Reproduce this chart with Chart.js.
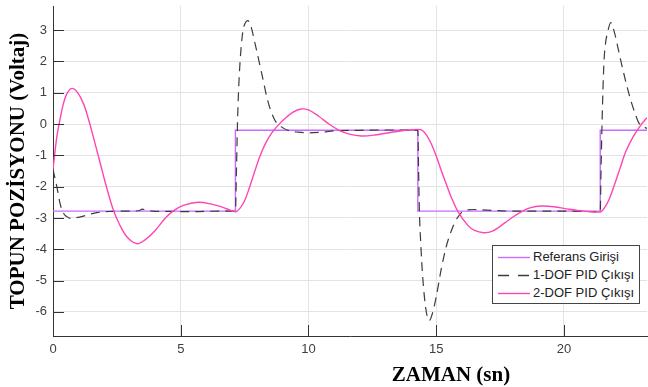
<!DOCTYPE html>
<html><head><meta charset="utf-8">
<script src="https://cdn.jsdelivr.net/npm/chart.js@4.4.0/dist/chart.umd.min.js"></script>
<style>
html,body{margin:0;padding:0;background:#fff;}
#wrap{position:relative;width:648px;height:387px;overflow:hidden;}
#xtitle{position:absolute;left:351px;width:200px;top:361px;text-align:center;font:bold 21px "Liberation Serif","Times New Roman",serif;color:#000;line-height:26px;}
#legend{position:absolute;left:492px;top:245px;width:146px;height:57px;border:1px solid #444;background:#fff;font:13px "Liberation Sans",Arial,sans-serif;color:#222;}
.row{position:absolute;left:4px;height:18px;line-height:18px;white-space:nowrap;}
.row svg{position:absolute;left:0;top:0;}
.row span{position:absolute;left:36px;top:0;}
</style></head><body>
<div id="wrap">
<canvas id="c" width="648" height="387"></canvas>
<div id="xtitle">ZAMAN (sn)</div>
<div id="legend"></div>
</div>
<script>
// ---- data ----
const seriesNames = ["Referans Girişi", "1-DOF PID Çıkışı", "2-DOF PID Çıkışı"];
const refTimes  = [0, 7.14, 14.28, 21.42, 23.25];
const refLevels = [-2.78, -0.2, -2.78, -0.2, -0.2];

const dof1Times = [0,0.15,0.28,0.41,0.55,0.67,0.9,1.19,1.45,1.71,
  2.1,2.5,3.0,3.35,3.5,3.65,3.9,4.5,5.5,6.5,
  7.14,7.18,7.22,7.27,7.31,7.38,7.44,7.52,7.62,7.72,
  7.9,8.16,8.42,8.68,8.94,9.27,9.6,10.0,10.5,11.0,
  12.0,13.0,14.28,14.31,14.34,14.4,14.47,14.6,14.73,14.85,
  15.0,15.19,15.39,15.55,15.71,15.85,16.03,16.5,17.0,18.0,
  19.0,20.0,21.42,21.45,21.49,21.53,21.57,21.63,21.7,21.83,
  21.95,22.22,22.42,22.61,22.8,22.94,23.1,23.25];
const dof1Values = [-1.45,-2.0,-2.55,-2.85,-2.96,-3.01,-2.99,-2.94,-2.88,-2.83,
  -2.8,-2.78,-2.78,-2.77,-2.72,-2.76,-2.78,-2.79,-2.8,-2.78,
  -2.78,-1.5,0.0,1.2,1.83,2.6,3.0,3.22,3.3,3.2,
  2.6,1.65,0.7,0.13,-0.09,-0.22,-0.26,-0.28,-0.26,-0.22,
  -0.2,-0.19,-0.2,-1.5,-2.75,-3.9,-4.88,-5.94,-6.28,-6.05,
  -5.52,-4.66,-3.92,-3.5,-3.17,-2.97,-2.8,-2.73,-2.75,-2.78,
  -2.78,-2.78,-2.8,-1.5,0.0,1.2,2.04,2.6,2.9,3.24,
  3.0,2.04,1.35,0.77,0.3,0.02,-0.08,-0.14];

const dof2Times = [0,0.15,0.3,0.41,0.55,0.74,0.95,1.19,1.4,1.58,
  1.8,1.97,2.1,2.36,2.6,2.89,3.28,3.6,4.0,4.4,
  4.7,5.1,5.68,6.2,6.65,7.14,7.3,7.5,7.7,7.9,
  8.1,8.3,8.55,8.8,9.1,9.4,9.7,10.0,10.4,10.8,
  11.2,11.6,12.07,12.6,13.2,13.8,14.3,14.45,14.6,14.8,
  15.0,15.19,15.4,15.58,15.84,16.23,16.5,16.85,17.2,17.7,
  18.0,18.38,18.7,19.1,19.6,20.2,20.8,21.42,21.55,21.77,
  22.0,22.2,22.42,22.7,23.0,23.25];
const dof2Values = [-1.45,-0.41,0.25,0.66,0.98,1.14,1.02,0.66,0.12,-0.42,
  -1.1,-1.63,-2.03,-2.74,-3.2,-3.6,-3.82,-3.7,-3.4,-3.0,
  -2.78,-2.6,-2.5,-2.56,-2.66,-2.8,-2.71,-2.45,-2.0,-1.5,
  -1.03,-0.65,-0.3,-0.05,0.19,0.38,0.48,0.45,0.25,0.0,
  -0.2,-0.32,-0.38,-0.35,-0.27,-0.2,-0.17,-0.2,-0.33,-0.62,
  -1.02,-1.47,-1.93,-2.32,-2.78,-3.23,-3.4,-3.47,-3.42,-3.15,
  -2.97,-2.78,-2.67,-2.62,-2.64,-2.72,-2.78,-2.81,-2.72,-2.4,
  -1.88,-1.4,-0.88,-0.42,-0.04,0.2];

const xTickValues = [0, 5, 10, 15, 20];
const yTickValues = [-6, -5, -4, -3, -2, -1, 0, 1, 2, 3];
const xTitle = "ZAMAN (sn)";
const yTitle = "TOPUN POZİSYONU (Voltaj)";

// ---- styles ----
const colors = ["#c86cff", "#3c3c3c", "#ff45b4"];
const dashes = [[], [9, 6], []];

const pts = (t, v) => t.map((x, i) => ({x: x, y: v[i]}));

const inwardTicks = {
  id: 'inwardTicks',
  afterDatasetsDraw(chart) {
    const {ctx, chartArea: a, scales: {x, y}} = chart;
    const L = 11;
    ctx.save();
    ctx.strokeStyle = '#333';
    ctx.lineWidth = 1;
    ctx.beginPath();
    x.ticks.forEach(t => { const px = Math.round(x.getPixelForValue(t.value)) + 0.5; ctx.moveTo(px, a.bottom); ctx.lineTo(px, a.bottom - L); });
    y.ticks.forEach(t => { const py = Math.round(y.getPixelForValue(t.value)) + 0.5; ctx.moveTo(a.left, py); ctx.lineTo(a.left + L, py); });
    ctx.stroke();
    ctx.restore();
  }
};

new Chart(document.getElementById('c'), {
  type: 'line',
  data: {
    datasets: [
      {label: seriesNames[0], data: pts(refTimes, refLevels), stepped: true, borderColor: colors[0], borderWidth: 1.4, pointRadius: 0, order: 3},
      {label: seriesNames[1], data: pts(dof1Times, dof1Values), cubicInterpolationMode: 'monotone', borderColor: colors[1], borderDash: dashes[1], borderWidth: 1.2, pointRadius: 0, order: 2},
      {label: seriesNames[2], data: pts(dof2Times, dof2Values), tension: 0.35, borderColor: colors[2], borderWidth: 1.4, pointRadius: 0, order: 1}
    ]
  },
  options: {
    responsive: false,
    animation: false,
    devicePixelRatio: 1,
    layout: {padding: {top: 6, right: 1, left: 0, bottom: 0}},
    plugins: {legend: {display: false}, tooltip: {enabled: false}},
    scales: {
      x: {
        type: 'linear', min: 0, max: 23.25,
        afterFit: s => { s.height = 51; s.paddingLeft = 0; s.paddingRight = 0; },
        afterBuildTicks: s => { s.ticks = xTickValues.map(v => ({value: v})); },
        ticks: {padding: 6, color: '#404040', font: {family: 'Liberation Sans', size: 13}, maxRotation: 0},
        grid: {color: '#e3e3e3', drawTicks: false},
        border: {display: true, color: '#333', width: 1}
      },
      y: {
        type: 'linear', min: -6.77, max: 3.77,
        afterFit: s => { s.width = 53; s.paddingTop = 0; s.paddingBottom = 0; },
        afterBuildTicks: s => { s.ticks = yTickValues.map(v => ({value: v})); },
        ticks: {padding: 6, color: '#404040', font: {family: 'Liberation Sans', size: 13}},
        grid: {color: '#e3e3e3', drawTicks: false},
        border: {display: true, color: '#333', width: 1},
        title: {display: true, text: yTitle, color: '#000', font: {family: 'Liberation Serif', size: 21, weight: 'bold'}, padding: {top: 6, bottom: 0}}
      }
    }
  },
  plugins: [inwardTicks]
});

// HTML legend
const lg = document.getElementById('legend');
seriesNames.forEach((n, i) => {
  const r = document.createElement('div');
  r.className = 'row';
  r.style.top = (2 + i * 18) + 'px';
  const dash = i === 1 ? 'stroke-dasharray="11 9"' : '';
  r.innerHTML = '<svg width="34" height="18"><line x1="1" y1="9.5" x2="33" y2="9.5" stroke="' + colors[i] + '" stroke-width="1.4" ' + dash + '/></svg><span></span>';
  r.querySelector('span').textContent = n;
  lg.appendChild(r);
});
document.getElementById('xtitle').textContent = xTitle;
</script>
</body></html>
